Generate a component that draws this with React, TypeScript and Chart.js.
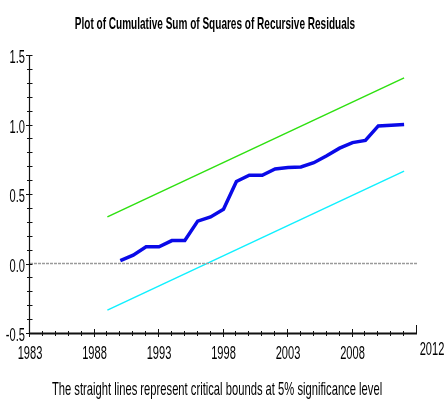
import React, { useEffect, useRef } from 'react';
import { Chart, registerables } from 'chart.js';

Chart.register(...registerables);

const TITLE = 'Plot of Cumulative Sum of Squares of Recursive Residuals';
const SUBTITLE = 'The straight lines represent critical bounds at 5% significance level';

const years = [1990, 1991, 1992, 1993, 1994, 1995, 1996, 1997, 1998, 1999, 2000, 2001, 2002, 2003, 2004, 2005, 2006, 2007, 2008, 2009, 2010, 2011, 2012];
const cusumsq = [0.02, 0.06, 0.12, 0.12, 0.165, 0.165, 0.305, 0.335, 0.39, 0.59, 0.635, 0.635, 0.68, 0.69, 0.695, 0.725, 0.775, 0.83, 0.87, 0.885, 0.99, 0.995, 1.0];

const boundYears = [1989, 2012];
const upperBound = [0.335, 1.335];
const lowerBound = [-0.335, 0.665];

const zeroYears = [1983, 2013];
const zeroLine = [0, 0];

const xMin = 1983;
const xMax = 2013;
const yMin = -0.5;
const yMax = 1.5;

const xMajorTicks = [1983, 1988, 1993, 1998, 2003, 2008];
const xTickLabels = ['1983', '1988', '1993', '1998', '2003', '2008'];
const xEndLabel = '2012';
const yMajorTicks = [-0.5, 0, 0.5, 1.0, 1.5];
const yTickLabels = ['-0.5', '0.0', '0.5', '1.0', '1.5'];

const FONT = "'Liberation Sans', Arial, sans-serif";
const SX = 0.6;

function drawText(ctx: CanvasRenderingContext2D, text: string, x: number, y: number, size: number, bold: boolean, align: CanvasTextAlign, sx: number = SX) {
  ctx.save();
  ctx.font = `${bold ? 'bold ' : ''}${size}px ${FONT}`;
  ctx.textBaseline = 'alphabetic';
  ctx.textAlign = align;
  ctx.fillStyle = '#000';
  ctx.translate(x, y);
  ctx.scale(sx, 1);
  ctx.fillText(text, 0, 0);
  ctx.restore();
}

const axesPlugin = {
  id: 'microfitAxes',
  afterDraw(chart: any) {
    const ctx: CanvasRenderingContext2D = chart.ctx;
    const xs = chart.scales.x;
    const ys = chart.scales.y;
    const left = xs.getPixelForValue(xMin);
    const right = xs.getPixelForValue(xMax);
    const top = ys.getPixelForValue(yMax);
    const bottom = ys.getPixelForValue(yMin);

    ctx.save();
    ctx.strokeStyle = '#111';
    ctx.lineWidth = 1.2;
    // y axis
    ctx.beginPath();
    ctx.moveTo(left - 0.5, top);
    ctx.lineTo(left - 0.5, bottom);
    ctx.stroke();
    // x axis
    ctx.lineWidth = 2;
    ctx.beginPath();
    ctx.moveTo(left - 1, bottom + 0.5);
    ctx.lineTo(right, bottom + 0.5);
    ctx.stroke();

    ctx.lineWidth = 1;
    // y ticks (every 0.1)
    for (let i = 0; i <= 20; i++) {
      const v = yMin + i * 0.1;
      const py = Math.round(ys.getPixelForValue(v)) + 0.5;
      const major = i % 5 === 0;
      ctx.beginPath();
      ctx.moveTo(left - (major ? 4 : 3), py);
      ctx.lineTo(left + 2.5, py);
      ctx.stroke();
    }
    // x ticks (every year)
    for (let yr = xMin; yr <= xMax; yr++) {
      const px = Math.round(xs.getPixelForValue(yr)) - 0.5;
      const major = (yr - xMin) % 5 === 0;
      ctx.beginPath();
      if (yr === xMax) {
        ctx.moveTo(px, bottom - 8);
        ctx.lineTo(px, bottom + 1);
      } else {
        ctx.moveTo(px, bottom - (major ? 4 : 2));
        ctx.lineTo(px, bottom + (major ? 4 : 3));
      }
      ctx.stroke();
    }
    ctx.restore();

    // tick labels
    yMajorTicks.forEach((v, i) => {
      const py = ys.getPixelForValue(v);
      drawText(ctx, yTickLabels[i], left - 5, py + 8, 18.5, false, 'right');
    });
    xMajorTicks.forEach((v, i) => {
      const px = xs.getPixelForValue(v);
      drawText(ctx, xTickLabels[i], px, bottom + 26, 18.5, false, 'center');
    });
    drawText(ctx, xEndLabel, right + 15, bottom + 22, 18.5, false, 'center');

    // titles
    drawText(ctx, TITLE, 215, 29, 17, true, 'center', 0.59);
    drawText(ctx, SUBTITLE, 217, 395, 19, false, 'center', 0.59);
  },
};

export default function App() {
  const canvasRef = useRef<HTMLCanvasElement | null>(null);

  useEffect(() => {
    const canvas = canvasRef.current;
    if (!canvas) return;
    const chart = new Chart(canvas, {
      type: 'line',
      data: {
        datasets: [
          {
            label: 'Zero',
            data: zeroYears.map((x, i) => ({ x, y: zeroLine[i] })),
            borderColor: '#9a9a9a',
            borderWidth: 1.6,
            borderDash: [3, 1],
            pointRadius: 0,
          },
          {
            label: 'Upper bound',
            data: boundYears.map((x, i) => ({ x, y: upperBound[i] })),
            borderColor: '#2ee010',
            borderWidth: 1.5,
            pointRadius: 0,
          },
          {
            label: 'Lower bound',
            data: boundYears.map((x, i) => ({ x, y: lowerBound[i] })),
            borderColor: '#10f0ff',
            borderWidth: 1.5,
            pointRadius: 0,
          },
          {
            label: 'CUSUM of squares',
            data: years.map((x, i) => ({ x, y: cusumsq[i] })),
            borderColor: '#0a0ae8',
            borderWidth: 3.5,
            pointRadius: 0,
            tension: 0,
          },
        ],
      },
      options: {
        responsive: false,
        animation: false,
        devicePixelRatio: 1,
        layout: { padding: { left: 30, right: 29, top: 55, bottom: 72 } },
        scales: {
          x: { type: 'linear', min: xMin, max: xMax, display: false },
          y: { type: 'linear', min: yMin, max: yMax, display: false },
        },
        plugins: {
          legend: { display: false },
          tooltip: { enabled: false },
          title: { display: false },
        },
      },
      plugins: [axesPlugin],
    });
    return () => chart.destroy();
  }, []);

  return (
    <div style={{ position: 'absolute', left: 0, top: 0, width: 446, height: 405, background: '#fff' }}>
      <canvas ref={canvasRef} width={446} height={405} style={{ display: 'block' }} />
    </div>
  );
}
